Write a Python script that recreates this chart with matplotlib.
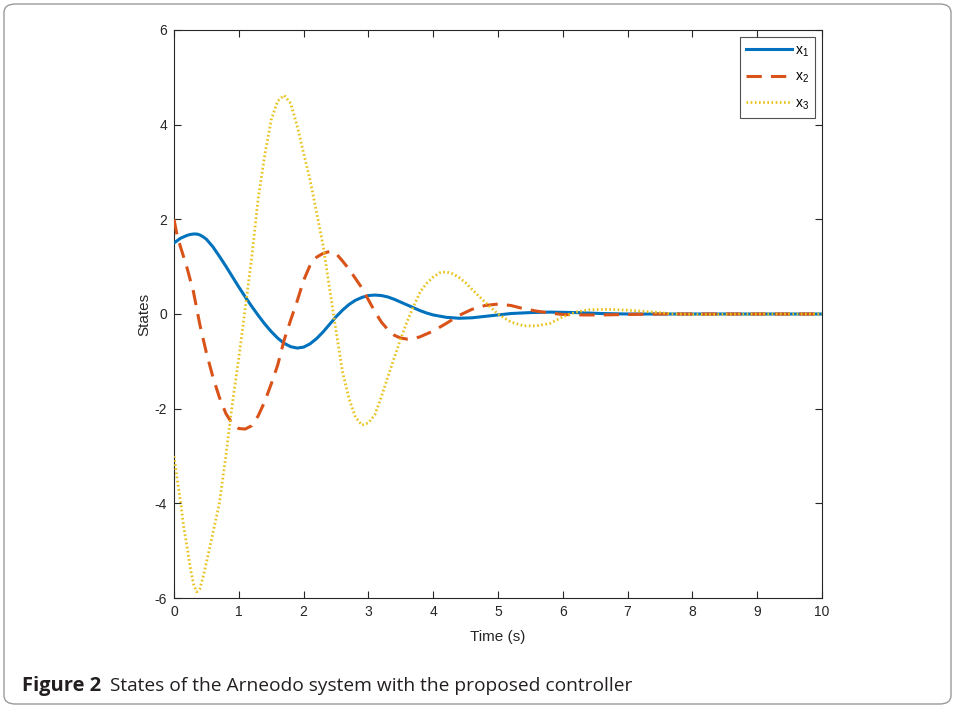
import matplotlib
matplotlib.use("Agg")
import matplotlib.pyplot as plt
from matplotlib.patches import FancyBboxPatch

# values
t1 = [0, 0.1, 0.2, 0.25, 0.3, 0.35, 0.4, 0.45, 0.5, 0.6, 0.7, 0.8, 0.9, 1.0,
      1.1, 1.2, 1.3, 1.4, 1.5, 1.6, 1.7, 1.8, 1.9, 2.0, 2.1, 2.2, 2.3, 2.4,
      2.5, 2.6, 2.7, 2.8, 2.9, 3.0, 3.1, 3.2, 3.3, 3.4, 3.5, 3.6, 3.7, 3.8,
      3.9, 4.0, 4.2, 4.4, 4.6, 4.8, 5.0, 5.2, 5.5, 5.8, 6.2, 6.6, 7.0, 8.0,
      9.0, 10.0]
x1 = [1.50, 1.60, 1.66, 1.68, 1.69, 1.69, 1.67, 1.63, 1.58, 1.42, 1.22, 1.01,
      0.79, 0.57, 0.36, 0.16, -0.03, -0.21, -0.37, -0.51, -0.62, -0.69,
      -0.72, -0.70, -0.63, -0.52, -0.38, -0.22, -0.06, 0.08, 0.20, 0.29,
      0.35, 0.39, 0.40, 0.39, 0.36, 0.31, 0.25, 0.19, 0.13, 0.07, 0.02,
      -0.02, -0.07, -0.09, -0.08, -0.05, -0.02, 0.01, 0.03, 0.04, 0.03, 0.01,
      0.0, 0.0, 0.0, 0.0]

t2 = [0, 0.05, 0.1, 0.2, 0.3, 0.4, 0.5, 0.6, 0.7, 0.8, 0.9, 1.0, 1.1, 1.2, 1.3,
      1.4, 1.5, 1.6, 1.7, 1.8, 1.9, 2.0, 2.1, 2.2, 2.3, 2.4, 2.5, 2.6, 2.7, 2.8,
      2.9, 3.0, 3.1, 3.2, 3.3, 3.4, 3.5, 3.6, 3.7, 3.8, 3.9, 4.0, 4.2, 4.4, 4.6,
      4.8, 5.0, 5.2, 5.4, 5.6, 5.8, 6.0, 6.3, 6.6, 7.0, 7.5, 8.0, 9.0, 10.0]
x2 = [2.0, 1.65, 1.42, 0.98, 0.47, -0.23, -0.82, -1.33, -1.76, -2.10, -2.32,
      -2.42, -2.43, -2.36, -2.15, -1.85, -1.48, -1.08, -0.55, -0.13, 0.27,
      0.71, 1.03, 1.20, 1.28, 1.32, 1.28, 1.12, 0.95, 0.75, 0.55, 0.30, 0.05,
      -0.17, -0.33, -0.45, -0.51, -0.53, -0.52, -0.48, -0.42, -0.36, -0.20,
      -0.03, 0.10, 0.18, 0.21, 0.18, 0.11, 0.06, 0.02, -0.01, -0.02, -0.02,
      -0.01, 0.0, 0.0, 0.0, 0.0]

t3 = [0, 0.05, 0.1, 0.15, 0.2, 0.25, 0.3, 0.35, 0.4, 0.45, 0.5, 0.6, 0.7, 0.8,
      0.9, 1.0, 1.1, 1.2, 1.3, 1.4, 1.5, 1.6, 1.7, 1.8, 1.9, 2.0, 2.1, 2.2, 2.3,
      2.4, 2.5, 2.6, 2.7, 2.8, 2.9, 3.0, 3.1, 3.2, 3.3, 3.4, 3.5, 3.6, 3.7, 3.8,
      3.9, 4.0, 4.1, 4.2, 4.3, 4.4, 4.5, 4.6, 4.8, 5.0, 5.2, 5.4, 5.6, 5.8, 6.0,
      6.2, 6.4, 6.7, 7.0, 7.4, 7.7, 8.2, 9.0, 10.0]
x3 = [-3.0, -3.5, -3.95, -4.5, -4.9, -5.35, -5.7, -5.87, -5.8, -5.55, -5.25,
      -4.63, -4.0, -3.0, -1.9, -0.93, 0.13, 1.2, 2.45, 3.35, 4.1, 4.5, 4.62,
      4.45, 3.98, 3.4, 2.83, 2.15, 1.45, 0.55, -0.35, -1.22, -1.78, -2.18,
      -2.35, -2.3, -2.13, -1.75, -1.33, -0.92, -0.52, -0.15, 0.17, 0.47, 0.65,
      0.78, 0.87, 0.89, 0.85, 0.77, 0.66, 0.52, 0.25, 0.0, -0.17, -0.25, -0.25,
      -0.2, -0.06, 0.04, 0.09, 0.10, 0.08, 0.04, 0.0, -0.01, 0.0, 0.0]

xticks = list(range(0, 11))
yticks = [-6, -4, -2, 0, 2, 4, 6]
labels = ["x$_1$", "x$_2$", "x$_3$"]
caption_bold = "Figure 2"
caption_text = "States of the Arneodo system with the proposed controller"

plt.rcParams["mathtext.default"] = "regular"
plt.rcParams["axes.unicode_minus"] = False
plt.rcParams["font.family"] = ["Liberation Sans", "DejaVu Sans"]

fig = plt.figure(figsize=(9.55, 7.08), dpi=100)
ax = fig.add_axes([174 / 955, 110 / 708, 648 / 955, 568 / 708])

ax.plot(t1, x1, color="#0072BD", lw=2.2, label=labels[0], zorder=3)
ax.plot(t2, x2, color="#D95319", lw=2.2, ls=(0, (5, 3)), label=labels[1], zorder=3)
ax.plot(t3, x3, color="#E8C21C", lw=2.0, ls=(0, (0.6, 0.9)), label=labels[2], zorder=3)

ax.set_xlim(0, 10)
ax.set_ylim(-6, 6)
ax.set_xticks(xticks)
ax.set_yticks(yticks)
ax.tick_params(direction="in", top=True, right=True, length=5, width=0.8,
               labelsize=10, colors="#262626", pad=5)
for sp in ax.spines.values():
    sp.set_color("#262626")
    sp.set_linewidth(0.8)
ax.set_xlabel("Time (s)", fontsize=11, color="#262626", labelpad=8)
ax.set_ylabel("States", fontsize=11, color="#262626", labelpad=2)

leg = ax.legend(loc="upper right", fontsize=10, handlelength=3.3,
                borderaxespad=0.5, frameon=True, fancybox=False,
                edgecolor="#262626", labelspacing=0.8, handletextpad=0.2,
                borderpad=0.45)
leg.get_frame().set_linewidth(0.8)

# rounded frame around the whole figure
frame = FancyBboxPatch((4 / 955, 4 / 708), 947 / 955, 700 / 708,
                       boxstyle="round,pad=0,rounding_size=0.012",
                       transform=fig.transFigure, fill=False,
                       edgecolor="#9a9a9a", lw=1.0)
fig.patches.append(frame)

cap = fig.text(22 / 955, 17 / 708, caption_bold, fontsize=14.5, fontweight="bold",
               family=["Open Sans", "DejaVu Sans"], color="#231f20", va="baseline")
fig.canvas.draw()
bb = cap.get_window_extent()
fig.text((bb.x1 + 9) / 955, 17 / 708, caption_text, fontsize=13.8,
         family=["Open Sans", "DejaVu Sans"], color="#231f20", va="baseline")

fig.savefig("out.png", dpi=100)
